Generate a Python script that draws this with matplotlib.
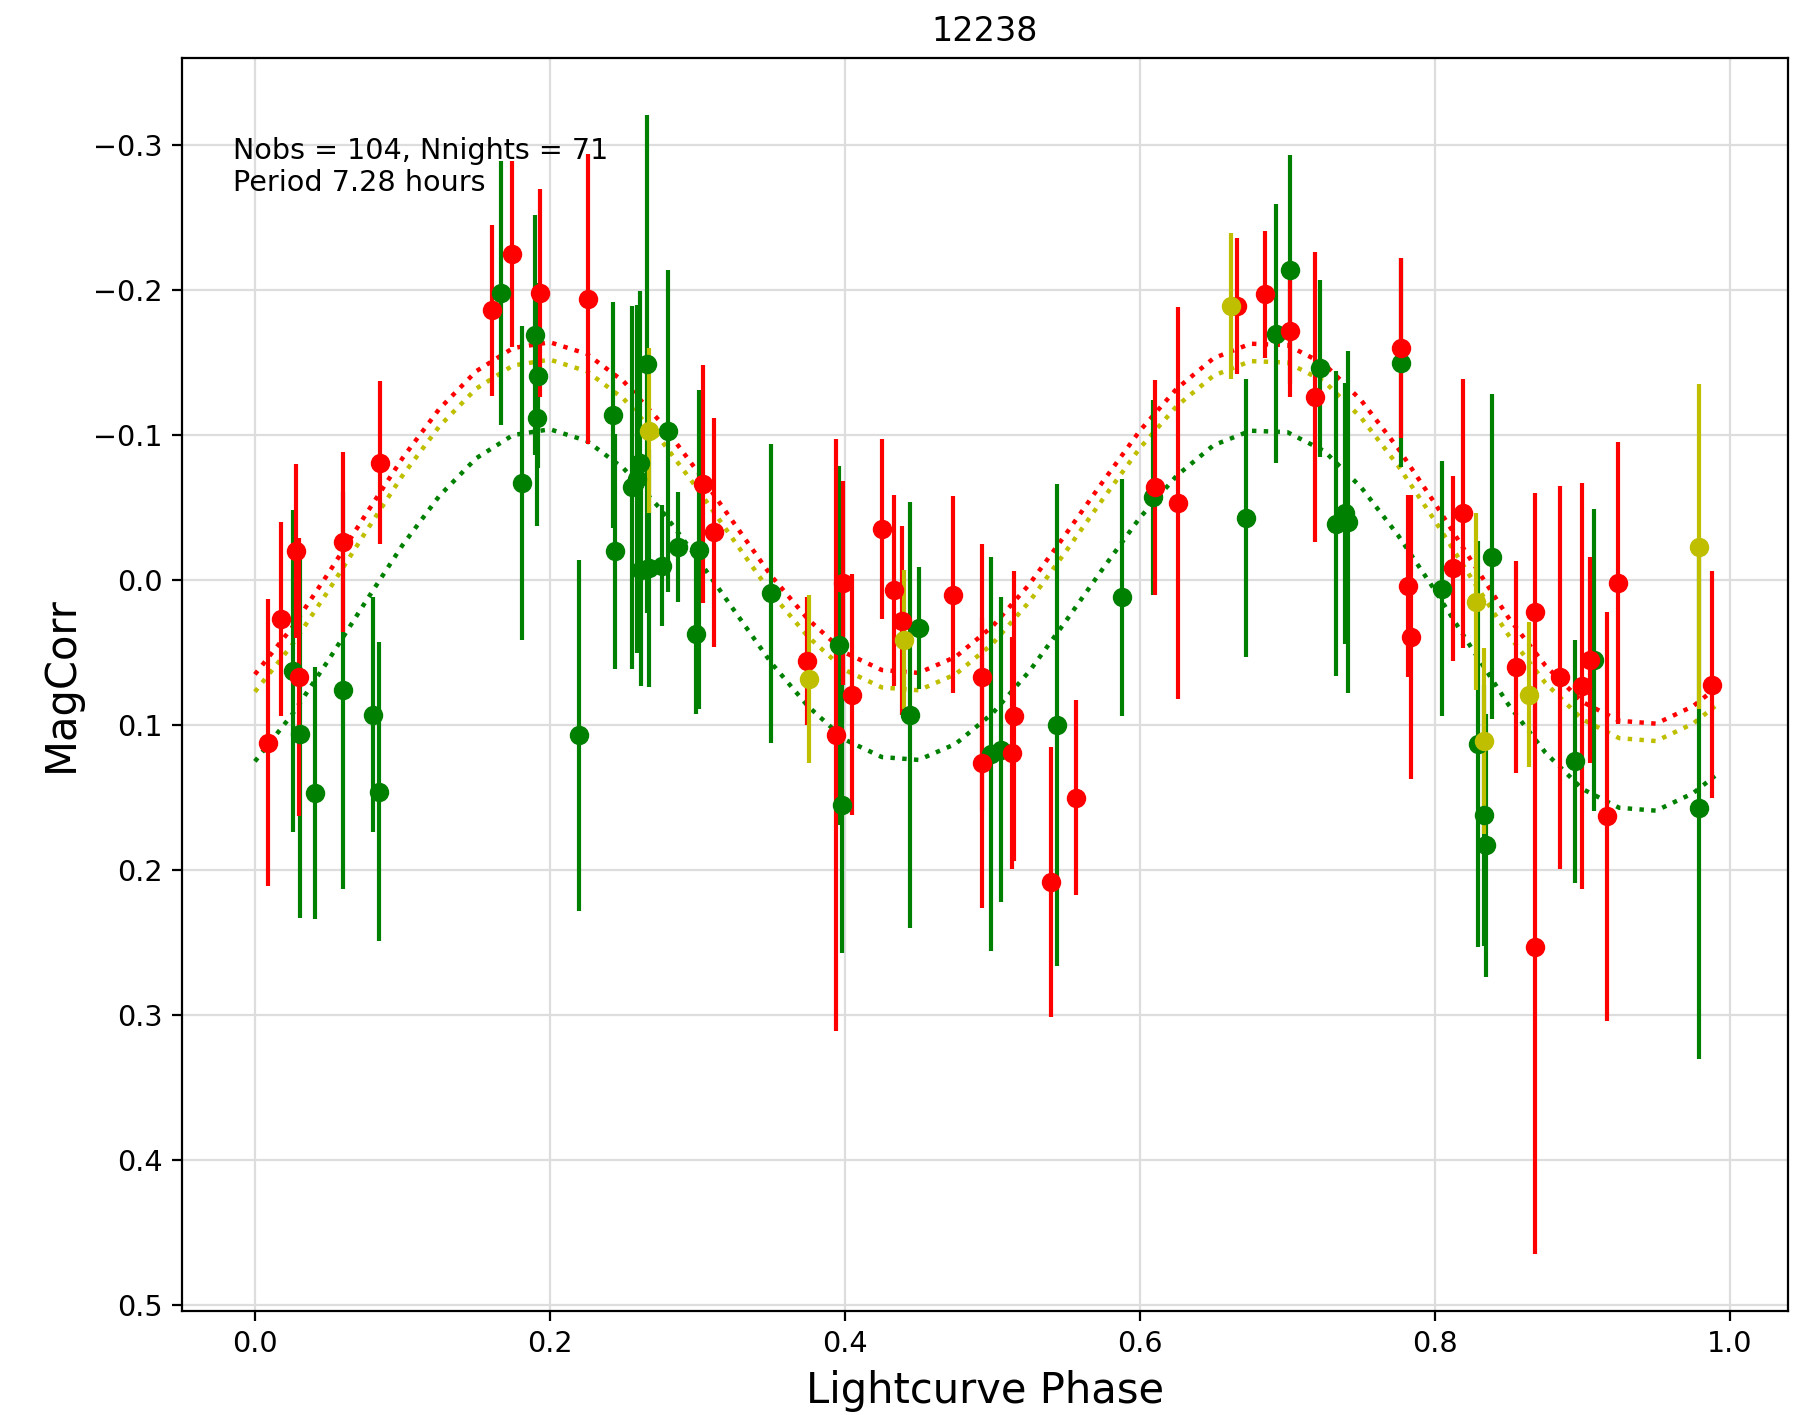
import matplotlib
matplotlib.use("Agg")
import matplotlib.pyplot as plt

# phase, MagCorr, error per band colour
red_phase = [0.009, 0.018, 0.028, 0.030, 0.060, 0.085, 0.161, 0.174, 0.193, 0.226,
             0.304, 0.311, 0.374, 0.394, 0.399, 0.405, 0.425, 0.433, 0.439, 0.473,
             0.493, 0.493, 0.513, 0.515, 0.540, 0.557, 0.610, 0.626, 0.666, 0.685,
             0.702, 0.719, 0.777, 0.782, 0.784, 0.812, 0.819, 0.855, 0.868, 0.868,
             0.885, 0.900, 0.905, 0.917, 0.924, 0.988]
red_mag = [0.112, 0.027, -0.020, 0.067, -0.026, -0.081, -0.186, -0.225, -0.198, -0.194,
           -0.066, -0.033, 0.056, 0.107, 0.002, 0.079, -0.035, 0.007, 0.028, 0.010,
           0.067, 0.126, 0.119, 0.094, 0.208, 0.150, -0.064, -0.053, -0.189, -0.197,
           -0.172, -0.126, -0.160, 0.004, 0.039, -0.008, -0.046, 0.060, 0.022, 0.253,
           0.067, 0.073, 0.055, 0.163, 0.002, 0.072]
red_err = [0.099, 0.067, 0.060, 0.096, 0.062, 0.056, 0.059, 0.064, 0.072, 0.100,
           0.082, 0.079, 0.044, 0.204, 0.070, 0.083, 0.062, 0.066, 0.065, 0.068,
           0.092, 0.100, 0.080, 0.100, 0.093, 0.067, 0.074, 0.135, 0.047, 0.044,
           0.046, 0.100, 0.062, 0.063, 0.098, 0.064, 0.093, 0.073, 0.082, 0.212,
           0.132, 0.140, 0.071, 0.141, 0.097, 0.078]

yel_phase = [0.267, 0.376, 0.440, 0.662, 0.828, 0.833, 0.864, 0.979]
yel_mag = [-0.103, 0.068, 0.041, -0.189, 0.015, 0.111, 0.079, -0.023]
yel_err = [0.057, 0.058, 0.048, 0.050, 0.061, 0.064, 0.050, 0.112]

grn_phase = [0.026, 0.0305, 0.041, 0.060, 0.080, 0.084, 0.167, 0.181, 0.190, 0.191,
             0.192, 0.220, 0.243, 0.244, 0.256, 0.259, 0.261, 0.262, 0.266, 0.267,
             0.276, 0.280, 0.287, 0.299, 0.301, 0.350, 0.396, 0.398, 0.444, 0.450,
             0.499, 0.506, 0.544, 0.588, 0.609, 0.672, 0.692, 0.702, 0.722, 0.733,
             0.739, 0.741, 0.777, 0.805, 0.829, 0.833, 0.835, 0.839, 0.895, 0.908,
             0.979]
grn_mag = [0.063, 0.106, 0.147, 0.076, 0.093, 0.146, -0.198, -0.067, -0.169, -0.112,
           -0.141, 0.107, -0.114, -0.020, -0.064, -0.070, -0.081, -0.007, -0.149, -0.008,
           -0.010, -0.103, -0.023, 0.037, -0.021, 0.009, 0.045, 0.155, 0.093, 0.033,
           0.120, 0.117, 0.100, 0.012, -0.057, -0.043, -0.170, -0.214, -0.146, -0.039,
           -0.046, -0.040, -0.150, 0.006, 0.113, 0.162, 0.183, -0.016, 0.125, 0.055,
           0.157]
grn_err = [0.111, 0.127, 0.087, 0.137, 0.081, 0.103, 0.091, 0.108, 0.083, 0.075,
           0.064, 0.121, 0.078, 0.081, 0.125, 0.120, 0.118, 0.080, 0.172, 0.082,
           0.042, 0.111, 0.038, 0.055, 0.110, 0.103, 0.124, 0.102, 0.147, 0.042,
           0.136, 0.105, 0.166, 0.082, 0.067, 0.096, 0.089, 0.079, 0.061, 0.105,
           0.090, 0.118, 0.072, 0.088, 0.140, 0.090, 0.091, 0.112, 0.084, 0.104,
           0.173]

# fitted model curves
fit_phase = [0.0, 0.025, 0.05, 0.075, 0.1, 0.125, 0.15, 0.175, 0.2, 0.225,
             0.25, 0.275, 0.3, 0.325, 0.35, 0.375, 0.4, 0.425, 0.45, 0.475,
             0.5, 0.525, 0.55, 0.575, 0.6, 0.625, 0.65, 0.675, 0.7, 0.725,
             0.75, 0.775, 0.8, 0.825, 0.85, 0.875, 0.9, 0.925, 0.95, 0.975, 0.99]
fit_red = [0.065, 0.033, -0.005, -0.045, -0.084, -0.118, -0.144, -0.160, -0.164, -0.156,
           -0.137, -0.109, -0.075, -0.039, -0.003, 0.027, 0.050, 0.062, 0.064, 0.053,
           0.032, 0.003, -0.032, -0.068, -0.103, -0.132, -0.153, -0.163, -0.162, -0.149,
           -0.124, -0.091, -0.053, -0.013, 0.026, 0.059, 0.084, 0.097, 0.099, 0.087, 0.075]
fit_yel = [0.077, 0.045, 0.007, -0.033, -0.072, -0.106, -0.132, -0.148, -0.152, -0.144,
           -0.125, -0.097, -0.063, -0.027, 0.009, 0.039, 0.062, 0.074, 0.076, 0.065,
           0.044, 0.015, -0.020, -0.056, -0.091, -0.120, -0.141, -0.151, -0.150, -0.137,
           -0.112, -0.079, -0.041, -0.001, 0.038, 0.071, 0.096, 0.109, 0.111, 0.099, 0.087]
fit_grn = [0.125, 0.093, 0.055, 0.015, -0.024, -0.058, -0.084, -0.100, -0.104, -0.096,
           -0.077, -0.049, -0.015, 0.021, 0.057, 0.087, 0.110, 0.122, 0.124, 0.113,
           0.092, 0.063, 0.028, -0.008, -0.043, -0.072, -0.093, -0.103, -0.102, -0.089,
           -0.064, -0.031, 0.007, 0.047, 0.086, 0.119, 0.144, 0.157, 0.159, 0.147, 0.135]

fig = plt.figure(figsize=(9.095, 7.075), dpi=200)
ax = fig.add_axes([0.100, 0.0735, 0.883, 0.8855])

# model curves
ax.plot(fit_phase, fit_red, ':', color='r', lw=1.6)
ax.plot(fit_phase, fit_yel, ':', color='y', lw=1.6)
ax.plot(fit_phase, fit_grn, ':', color='g', lw=1.6)

# observations
ax.errorbar(grn_phase, grn_mag, yerr=grn_err, fmt='o', color='g', ms=6, elinewidth=1.5, capsize=0)
ax.errorbar(red_phase, red_mag, yerr=red_err, fmt='o', color='r', ms=6, elinewidth=1.5, capsize=0)
ax.errorbar(yel_phase, yel_mag, yerr=yel_err, fmt='o', color='y', ms=6, elinewidth=1.5, capsize=0)

ax.set_xlim(-0.0495, 1.0395)
ax.set_ylim(0.504, -0.36)
ax.set_xticks([0.0, 0.2, 0.4, 0.6, 0.8, 1.0])
ax.set_yticks([-0.3, -0.2, -0.1, 0.0, 0.1, 0.2, 0.3, 0.4, 0.5])
ax.tick_params(labelsize=10.3)
ax.grid(True, color='#dddddd', lw=0.8)
ax.set_axisbelow(True)

ax.text(0.032, 0.937, "Nobs = 104, Nnights = 71\nPeriod 7.28 hours",
        transform=ax.transAxes, va='top', ha='left', fontsize=10.3)
ax.set_title("12238", fontsize=12)
ax.set_xlabel("Lightcurve Phase", fontsize=15)
ax.set_ylabel("MagCorr", fontsize=15)

fig.savefig("out.png", dpi=200)
